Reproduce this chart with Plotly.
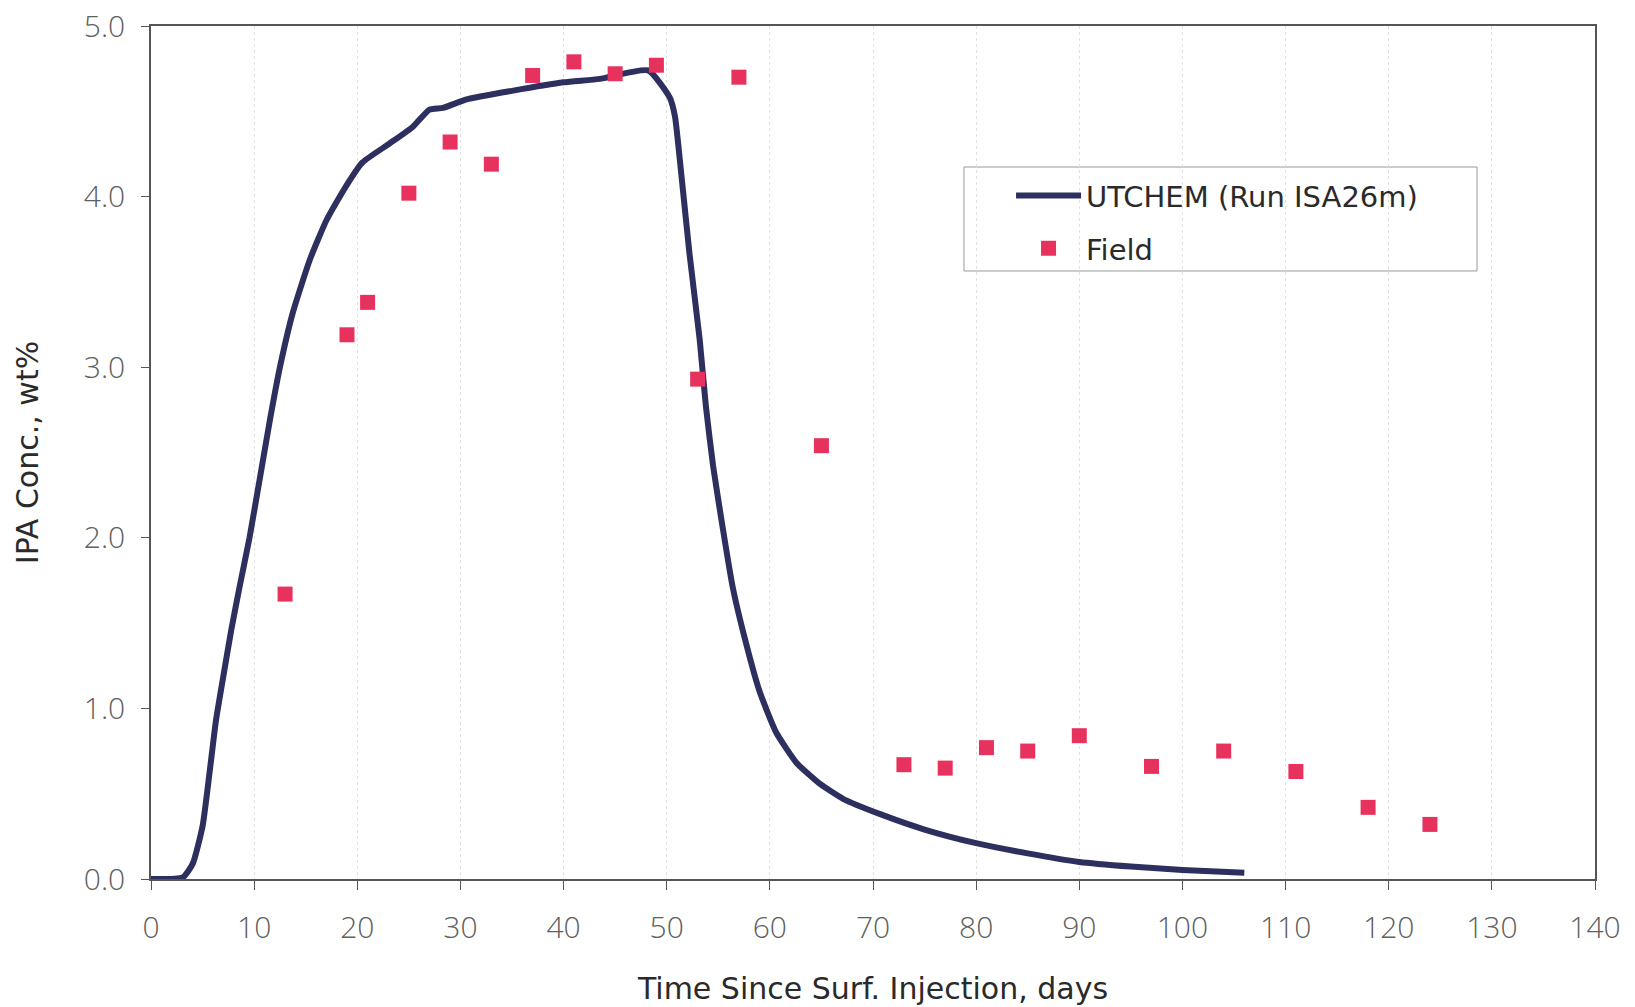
import plotly.graph_objects as go

# UTCHEM simulated curve
sim_days = [0, 3.1, 4.05, 5.0, 5.67, 6.3, 6.96, 7.78, 8.58, 9.55, 10.5, 11.5, 12.5,
            13.75, 15.4, 17.0, 18.9, 20.5, 23.1, 25.4, 27.0, 28.3, 30.6, 35.0, 40.0,
            43.5, 48.2, 50.3, 50.8, 51.4, 52.2, 53.2, 53.8, 54.5, 55.4, 56.4, 57.7,
            59.0, 60.6, 62.6, 64.8, 67.1, 70.7, 75.0, 80.0, 85.0, 90.0, 95.0, 100.0,
            106.0]
sim_conc = [0, 0.01, 0.09, 0.31, 0.62, 0.93, 1.17, 1.46, 1.71, 2.0, 2.33, 2.68, 3.0,
            3.32, 3.63, 3.86, 4.06, 4.20, 4.31, 4.41, 4.51, 4.52, 4.57, 4.62, 4.67,
            4.69, 4.74, 4.58, 4.47, 4.14, 3.67, 3.16, 2.77, 2.42, 2.07, 1.71, 1.38,
            1.10, 0.86, 0.68, 0.56, 0.47, 0.38, 0.29, 0.21, 0.15, 0.10, 0.073, 0.053,
            0.037]

# Field measurements
field_days = [13, 19, 21, 25, 29, 33, 37, 41, 45, 49, 53, 57, 65, 73, 77, 81, 85, 90,
              97, 104, 111, 118, 124]
field_conc = [1.67, 3.19, 3.38, 4.02, 4.32, 4.19, 4.71, 4.79, 4.72, 4.77, 2.93, 4.70,
              2.54, 0.67, 0.65, 0.77, 0.75, 0.84, 0.66, 0.75, 0.63, 0.42, 0.32]

x_ticks = list(range(0, 141, 10))
y_ticks = [0, 1, 2, 3, 4, 5]

FONT = "DejaVu Sans"
TICKFONT = "Open Sans"

fig = go.Figure()
fig.add_trace(go.Scatter(
    x=sim_days, y=sim_conc, mode="lines", name="UTCHEM (Run ISA26m)",
    line=dict(color="#2d2f5e", width=6, shape="spline", smoothing=0.5),
    legendgroup="a"))
fig.add_trace(go.Scatter(
    x=field_days, y=field_conc, mode="markers", name="Field",
    marker=dict(symbol="square", size=15, color="#e8325e"),
    legendgroup="b"))

# legend frame
fig.add_shape(type="rect", xref="paper", yref="paper",
              x0=0.563, x1=0.9183, y0=0.7128, y1=0.8347,
              line=dict(color="#9a9a9a", width=1), fillcolor="white", layer="below")

fig.update_layout(
    width=1635, height=1007,
    margin=dict(l=151, r=40, t=26, b=128),
    paper_bgcolor="white", plot_bgcolor="white",
    font=dict(family=FONT, color="#2a2a2a"),
    legend=dict(
        x=0.5956, y=0.831, xanchor="left", yanchor="top",
        borderwidth=0, bgcolor="rgba(0,0,0,0)",
        font=dict(size=29, color="#2a2a2a"),
        tracegroupgap=12, itemwidth=65,
    ),
    xaxis=dict(
        range=[0, 140], tickvals=x_ticks, ticktext=[str(v) for v in x_ticks],
        ticks="outside", ticklen=9, tickcolor="#555555",
        showline=True, linecolor="#555555", linewidth=1.5, mirror=True,
        showgrid=True, gridcolor="#e2e2e2", griddash="dot", gridwidth=1,
        zeroline=False, automargin=False,
        tickfont=dict(size=30, color="#606060", family=TICKFONT, weight=300),
        ticklabelstandoff=12,
        title=dict(text="Time Since Surf. Injection, days",
                   font=dict(size=30, color="#2a2a2a"), standoff=32),
    ),
    yaxis=dict(
        range=[0, 5], tickvals=y_ticks, ticktext=[f"{v:.1f}" for v in y_ticks],
        ticks="outside", ticklen=8, tickcolor="#555555",
        showline=True, linecolor="#555555", linewidth=1.5, mirror=True,
        showgrid=False, zeroline=False, automargin=False,
        tickfont=dict(size=30, color="#606060", family=TICKFONT, weight=300),
        ticklabelstandoff=10,
        title=dict(text="IPA Conc., wt%", font=dict(size=30, color="#2a2a2a"),
                   standoff=36),
    ),
)

fig.write_html("out.html")
